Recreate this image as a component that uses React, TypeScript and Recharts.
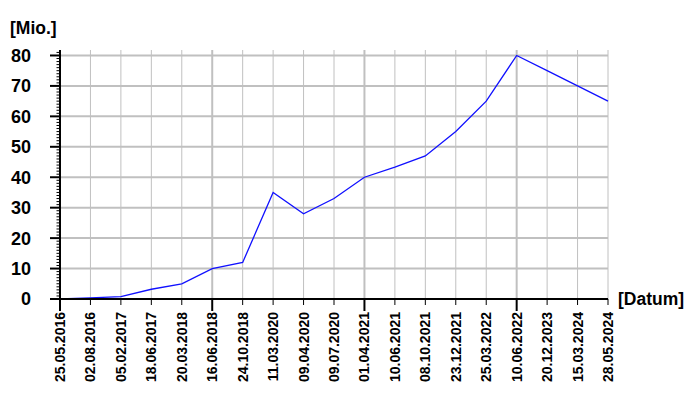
import React from 'react';
import { LineChart, Line, XAxis, YAxis, ReferenceLine } from 'recharts';

const dates = [
  '25.05.2016', '02.08.2016', '05.02.2017', '18.06.2017', '20.03.2018', '16.06.2018',
  '24.10.2018', '11.03.2020', '09.04.2020', '09.07.2020', '01.04.2021', '10.06.2021',
  '08.10.2021', '23.12.2021', '25.03.2022', '10.06.2022', '20.12.2023', '15.03.2024',
  '28.05.2024',
];
const values = [0, 0.4, 0.8, 3.2, 5, 10, 12, 35, 28, 33, 40, 43.3, 47, 55, 65, 80, 75, 70, 65];
const majorTicks = [0, 10, 20, 30, 40, 50, 60, 70, 80];
const minorTicks = Array.from({ length: 82 }, (_, i) => i);

const data = dates.map((d, i) => ({ date: d, value: values[i] }));

const FONT = '"Liberation Sans", Arial, sans-serif';
const GRID = '#c0c0c0';

const YTick = (props: any) => {
  const { x, y, payload } = props;
  const v = payload.value;
  const major = v % 10 === 0;
  return (
    <g>
      <line x1={major ? x - 10 : x - 3.5} x2={x} y1={y} y2={y} stroke="#000" strokeWidth={major ? 2 : 1} />
      {major && (
        <text x={x - 29} y={y} dy="0.36em" textAnchor="end" fontFamily={FONT} fontWeight="bold" fontSize={18} fill="#000">
          {v}
        </text>
      )}
    </g>
  );
};

const XTick = (props: any) => {
  const { x, y, payload, index } = props;
  const major = index % 5 === 0;
  return (
    <g>
      <line x1={x} x2={x} y1={y} y2={y + (major ? 12 : 6)} stroke="#000" strokeWidth={major ? 2 : 1} />
      <text
        transform={`translate(${x},${y + 13}) rotate(-90)`}
        textAnchor="end"
        dy="0.36em"
        fontFamily={FONT}
        fontWeight="bold"
        fontSize={14}
        fill="#000"
      >
        {payload.value}
      </text>
    </g>
  );
};

export default function App() {
  return (
    <div style={{ position: 'absolute', left: 0, top: 0, background: '#fff' }}>
      <LineChart width={700} height={400} data={data} margin={{ top: 50, right: 92, left: 10, bottom: 0 }}>
        {majorTicks.slice(1).map((v) => (
          <ReferenceLine key={`h-${v}`} y={v} stroke={GRID} strokeWidth={2} />
        ))}
        {dates.map((d, i) => (
          <ReferenceLine key={`v-${d}`} x={d} stroke={GRID} strokeWidth={i % 5 === 0 ? 2 : 1} />
        ))}
        <XAxis
          dataKey="date"
          interval={0}
          height={101}
          tickSize={0}
          tickMargin={0}
          tickLine={false}
          axisLine={{ stroke: '#000', strokeWidth: 2 }}
          tick={<XTick />}
          label={{
            content: () => (
              <text x={618} y={299} dy="0.36em" fontFamily={FONT} fontWeight="bold" fontSize={17.5} fill="#000">
                [Datum]
              </text>
            ),
          }}
        />
        <YAxis
          type="number"
          domain={[0, 81.8]}
          ticks={minorTicks}
          interval={0}
          width={50}
          tickSize={0}
          tickMargin={0}
          tickLine={false}
          allowDataOverflow
          axisLine={{ stroke: '#000', strokeWidth: 2 }}
          tick={<YTick />}
          label={{
            content: () => (
              <text x={10} y={34} fontFamily={FONT} fontWeight="bold" fontSize={17.5} fill="#000">
                [Mio.]
              </text>
            ),
          }}
        />
        <Line
          type="linear"
          dataKey="value"
          stroke="#1010ff"
          strokeWidth={1.3}
          dot={false}
          isAnimationActive={false}
        />
      </LineChart>
    </div>
  );
}
